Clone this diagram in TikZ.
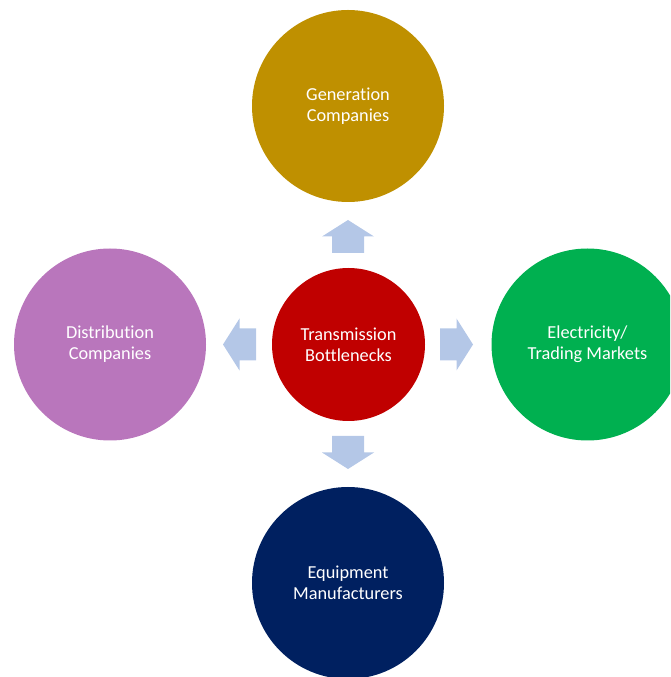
\documentclass[tikz,border=0pt]{standalone}
\usepackage{fontspec}
\setmainfont[Ligatures=NoCommon]{Carlito}
\definecolor{genc}{HTML}{BF9000}
\definecolor{distc}{HTML}{B976BC}
\definecolor{elec}{HTML}{00B050}
\definecolor{equipc}{HTML}{002060}
\definecolor{transc}{HTML}{C00000}
\definecolor{arrowc}{HTML}{B4C7E7}

\begin{document}
\begin{tikzpicture}[x=1pt,y=1pt,
  blob/.style={circle,minimum size=192pt,inner sep=0pt,text=white,align=center,
    font=\fontsize{18.3}{21}\selectfont},
  barrow/.pic={\fill[arrowc] (-16.5,-16) -- (0,-16) -- (0,-26) -- (16.5,0) -- (0,26) -- (0,16) -- (-16.5,16) -- cycle;}]
\useasboundingbox (0,0) rectangle (670,677);
\clip (0,0) rectangle (670,677);
\node[blob,fill=transc,minimum size=153pt] (trans) at (348.5,332.5) {Transmission\\Bottlenecks};
\node[blob,fill=genc] (gen) at (348,571) {Generation\\Companies};
\node[blob,fill=distc] (dist) at (110,332.5) {Distribution\\Companies};
\node[blob,fill=elec] (elec) at (587.5,332.5) {Electricity/\\Trading Markets};
\node[blob,fill=equipc] (equip) at (348,94) {Equipment\\Manufacturers};
% block arrows out of the centre
\foreach \p/\a in {{(348,440.5)}/90,{(456.5,332.5)}/0,{(348,224.5)}/-90,{(239.5,332.5)}/180}
\pic[rotate=\a] at \p {barrow};
\end{tikzpicture}
\end{document}
